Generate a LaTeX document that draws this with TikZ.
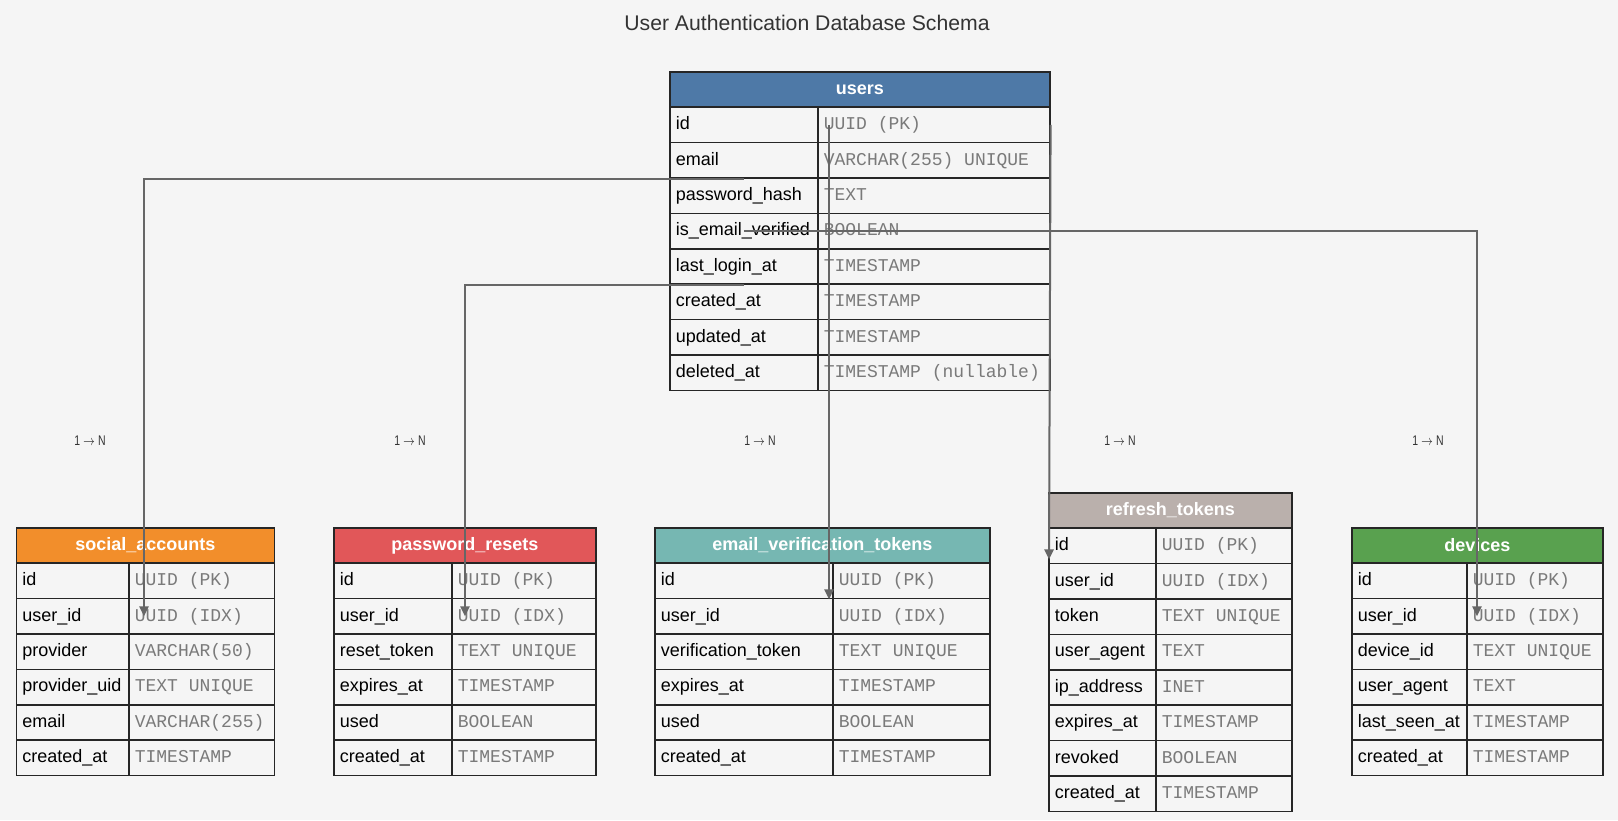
\documentclass[tikz,border=0pt]{standalone}
\usepackage{fontspec}
\setmainfont{Liberation Sans}
\setmonofont{Liberation Mono}
\usepackage{graphicx}
\usepackage{tikz}
\usetikzlibrary{arrows.meta}
\usepackage{xcolor}
\definecolor{ColBack}{HTML}{F5F5F5}
\definecolor{ColUsers}{HTML}{4E79A7}
\definecolor{ColSocial}{HTML}{F28E2B}
\definecolor{ColReset}{HTML}{E15759}
\definecolor{ColVerify}{HTML}{76B7B2}
\definecolor{ColToken}{HTML}{BAB0AC}
\definecolor{ColDevice}{HTML}{59A14F}
\definecolor{ColEdge}{HTML}{666666}
\definecolor{ColType}{HTML}{7A7A7A}
\tikzstyle{HeadCell}=[draw=black!85,line width=.8pt,text=white,inner sep=0pt,minimum height=17.7pt,
font=\fontsize{9}{10}\selectfont\bfseries]
\tikzstyle{FieldCell}=[draw=black!85,line width=.8pt,fill=ColBack,anchor=north west,align=left,
inner xsep=3pt,inner ysep=0pt,minimum height=17.7pt,text height=6.6pt,text depth=1.9pt,
font=\fontsize{9}{10}\selectfont]
\tikzstyle{TypeCell}=[FieldCell,text=ColType,font=\fontsize{9}{10}\selectfont\ttfamily]
\tikzstyle{EdgeArrow}=[ColEdge,line width=1pt,-{Triangle[length=5pt,width=4.6pt]}]
\tikzstyle{CardLabel}=[text=black!80,font=\fontsize{7}{8}\selectfont]
\tikzstyle{TitleText}=[text=black!80,font=\fontsize{10.6}{12}\selectfont]
\newcommand{\tsp}{\hspace*{.6em}}
\newcommand{\card}{\scalebox{.75}[1]{1 $\rightarrow$ N}}
% #1 name, #2 left, #3 top, #4 split, #5 right, #6 colour, #7 title, #8 field/type rows
\newcommand{\dbtable}[8]{%
  \pgfmathsetlengthmacro{\fieldw}{0.5*(#4-#2)-6}%
  \pgfmathsetlengthmacro{\typew}{0.5*(#5-#4)-6}%
  \pgfmathsetlengthmacro{\headw}{0.5*(#5-#2)}%
  \node[HeadCell,fill=#6,minimum width=\headw,anchor=north west](#1-h)at(#2,#3){#7};
  \foreach \f/\t [count=\i] in {#8}{%
    \node[FieldCell,text width=\fieldw](#1-\i-f)at(#2,#3+35.4*\i){\mbox{\f}};
    \node[TypeCell,text width=\typew](#1-\i-t)at(#4,#3+35.4*\i){\mbox{\t}};
  }%
}

\begin{document}
\begin{tikzpicture}[x=0.5pt,y=-0.5pt]
        \path[use as bounding box,fill=ColBack](0,0)rectangle(1618,820);
        \node[TitleText](title)at(807,23){User Authentication Database Schema};
        % tables
        \dbtable{users}{669}{71}{817}{1049}{ColUsers}{users}{id/UUID\tsp(PK),email/VARCHAR(255)\tsp UNIQUE,
          password\_hash/TEXT,is\_email\_verified/BOOLEAN,last\_login\_at/TIMESTAMP,created\_at/TIMESTAMP,
          updated\_at/TIMESTAMP,deleted\_at/TIMESTAMP\tsp(nullable)}
        \dbtable{sa}{15.5}{527}{128}{273.5}{ColSocial}{social\_accounts}{id/UUID\tsp(PK),user\_id/UUID\tsp(IDX),
          provider/VARCHAR(50),provider\_uid/TEXT\tsp UNIQUE,email/VARCHAR(255),created\_at/TIMESTAMP}
        \dbtable{pr}{333}{527}{451}{595}{ColReset}{password\_resets}{id/UUID\tsp(PK),user\_id/UUID\tsp(IDX),
          reset\_token/TEXT\tsp UNIQUE,expires\_at/TIMESTAMP,used/BOOLEAN,created\_at/TIMESTAMP}
        \dbtable{ev}{654}{527}{832}{989}{ColVerify}{email\_verification\_tokens}{id/UUID\tsp(PK),user\_id/UUID\tsp(IDX),
          verification\_token/TEXT\tsp UNIQUE,expires\_at/TIMESTAMP,used/BOOLEAN,created\_at/TIMESTAMP}
        \dbtable{rt}{1048}{492}{1155}{1291}{ColToken}{refresh\_tokens}{id/UUID\tsp(PK),user\_id/UUID\tsp(IDX),
          token/TEXT\tsp UNIQUE,user\_agent/TEXT,ip\_address/INET,expires\_at/TIMESTAMP,revoked/BOOLEAN,
          created\_at/TIMESTAMP}
        \dbtable{dv}{1351}{527}{1466}{1602}{ColDevice}{devices}{id/UUID\tsp(PK),user\_id/UUID\tsp(IDX),
          device\_id/TEXT\tsp UNIQUE,user\_agent/TEXT,last\_seen\_at/TIMESTAMP,created\_at/TIMESTAMP}
        % relations
        \draw[EdgeArrow](users-2-f.south)-|([xshift=8pt]sa-2-t.west);
        \draw[EdgeArrow](users-5-f.south)-|([xshift=7pt]pr-2-t.west);
        \draw[EdgeArrow]([xshift=6pt]users-1-t.west)--([xshift=-1.5pt]ev-1-t.south west);
        \draw[EdgeArrow](users-1-t.east)--([xshift=.5pt,yshift=2.5pt]rt-1-f.south west);
        \draw[EdgeArrow](users-4-f.center)-|([xshift=5.5pt]dv-2-t.west);
        \node[CardLabel](card-sa)at(90,441){\card};
        \node[CardLabel](card-pr)at(410,441){\card};
        \node[CardLabel](card-ev)at(760,441){\card};
        \node[CardLabel](card-rt)at(1120,441){\card};
        \node[CardLabel](card-dv)at(1428,441){\card};
    \end{tikzpicture}
\end{document}
